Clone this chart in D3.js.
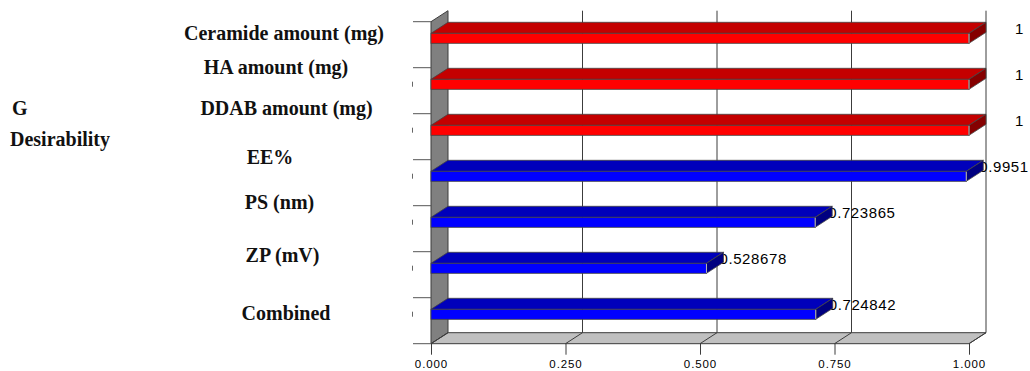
<!DOCTYPE html>
<html>
<head>
<meta charset="utf-8">
<script src="https://cdn.jsdelivr.net/npm/d3@7"></script>
<style>
  html, body { margin: 0; padding: 0; background: #ffffff; }
  svg { display: block; }
</style>
</head>
<body>
<svg id="chart" width="1030" height="371"></svg>
<script>
// Desirability per factor / response
const categories = ["Ceramide amount (mg)", "HA amount (mg)", "DDAB amount (mg)", "EE%", "PS (nm)", "ZP (mV)", "Combined"];
const desirability = [1, 1, 1, 0.9951, 0.723865, 0.528678, 0.724842];
const barGroup = ["factor", "factor", "factor", "response", "response", "response", "response"];
const xTicks = [0, 0.25, 0.5, 0.75, 1];

// Layout nudges for the row captions (dx, dy from band centre / caption column)
const captionShift = [[4, -4.7], [-4, -16.7], [6.5, -21.7], [-10, -18.7], [-0.5, -19.7], [2.5, -12.7], [6, -0.7]];

const palette = {
  factor:   { front: "#ff0000", top: "#c40000", end: "#850000" },
  response: { front: "#0000ff", top: "#0000bb", end: "#000080" }
};

const svg = d3.select("#chart");

// Plot geometry: front plane plus a receding depth offset
const depth = { dx: 17, dy: -11 };
const y = d3.scaleBand().domain(categories).range([21.7, 343.7]).padding(0);
const x = d3.scaleLinear().domain([0, 1]).range([431, 969]);
const xBar = d3.scaleLinear().domain([0, 1]).range([412, 969]);
const y0 = y.range()[0], y1 = y.range()[1];
const x0 = x(0), xEnd = x(1);

const lineCol = "#3c3c3c";

// Back-wall gridlines
svg.append("g").selectAll("line").data(xTicks.slice(1)).join("line")
  .attr("x1", d => x(d) + depth.dx).attr("x2", d => x(d) + depth.dx)
  .attr("y1", y0 + depth.dy).attr("y2", y1 + depth.dy)
  .attr("stroke", lineCol).attr("stroke-width", 1);

// Left wall
svg.append("path")
  .attr("d", `M${x0},${y0} L${x0 + depth.dx},${y0 + depth.dy} L${x0 + depth.dx},${y1 + depth.dy} L${x0},${y1} Z`)
  .attr("fill", "#808080").attr("stroke", lineCol).attr("stroke-width", 1);

// Floor
svg.append("path")
  .attr("d", `M${x0},${y1} L${x0 + depth.dx},${y1 + depth.dy} L${xEnd + depth.dx},${y1 + depth.dy} L${xEnd},${y1} Z`)
  .attr("fill", "#c0c0c0").attr("stroke", lineCol).attr("stroke-width", 1);

// Slanted tick lines across the floor
svg.append("g").selectAll("line").data(xTicks).join("line")
  .attr("x1", d => x(d)).attr("y1", y1)
  .attr("x2", d => x(d) + depth.dx).attr("y2", y1 + depth.dy)
  .attr("stroke", lineCol).attr("stroke-width", 1);

// Bottom axis
const xAxis = d3.axisBottom(x).tickValues(xTicks).tickFormat(d3.format(".3f")).tickSize(11).tickPadding(5);
const gx = svg.append("g").attr("transform", `translate(0,${y1})`).call(xAxis);
gx.select(".domain").remove();
gx.selectAll(".tick line").attr("stroke", lineCol);
gx.selectAll(".tick text")
  .attr("font-family", "'Liberation Sans', Arial, sans-serif")
  .attr("font-size", 11.5).attr("letter-spacing", "0.9px").attr("fill", "#000");

// Left category ticks at band boundaries
const bounds = categories.map(c => y(c)).concat([y1]);
svg.append("g").selectAll("line").data(bounds).join("line")
  .attr("x1", x0 - 18).attr("x2", x0)
  .attr("y1", d => d).attr("y2", d => d)
  .attr("stroke", "#555").attr("stroke-width", 1);

// Small clipped tick marks beside the rows
svg.append("g").selectAll("line").data(categories.slice(1)).join("line")
  .attr("x1", x0 - 18.5).attr("x2", x0 - 18.5)
  .attr("y1", d => y(d) + y.bandwidth() / 2 - 9)
  .attr("y2", d => y(d) + y.bandwidth() / 2 - 4)
  .attr("stroke", "#666").attr("stroke-width", 1);

// Bar geometry helpers
const faceTop = c => y(c) + 11.6;
const faceH = 10;

// Value labels (drawn first so the bar ends overlap them)
svg.append("g").selectAll("text").data(categories).join("text")
  .attr("x", (c, i) => xBar(desirability[i]) + depth.dx + (Number.isInteger(desirability[i]) ? 29 : -4))
  .attr("y", c => faceTop(c) + 0.3)
  .attr("font-family", "'Liberation Sans', Arial, sans-serif")
  .attr("font-size", 15).attr("letter-spacing", "0.6px").attr("fill", "#000")
  .text((c, i) => String(desirability[i]));

// 3D bars
const bars = svg.append("g").selectAll("g").data(categories).join("g");
bars.each(function (c, i) {
  const g = d3.select(this);
  const col = palette[barGroup[i]];
  const xl = x0, xr = xBar(desirability[i]);
  const t = faceTop(c), b = t + faceH;
  // top face
  g.append("path")
    .attr("d", `M${xl},${t} L${xl + depth.dx},${t + depth.dy} L${xr + depth.dx},${t + depth.dy} L${xr},${t} Z`)
    .attr("fill", col.top).attr("stroke", "#444").attr("stroke-width", 0.8);
  // end face
  g.append("path")
    .attr("d", `M${xr},${t} L${xr + depth.dx},${t + depth.dy} L${xr + depth.dx},${b + depth.dy} L${xr},${b} Z`)
    .attr("fill", col.end).attr("stroke", "#444").attr("stroke-width", 0.8);
  // front face
  g.append("rect")
    .attr("x", xl).attr("y", t).attr("width", xr - xl).attr("height", faceH)
    .attr("fill", col.front).attr("stroke", "#444").attr("stroke-width", 0.8);
  // light edge at the front-right corner
  g.append("line")
    .attr("x1", xr).attr("x2", xr).attr("y1", t + 0.5).attr("y2", b - 0.5)
    .attr("stroke", "#b8b8b8").attr("stroke-width", 1);
});

// Row captions
const serif = "'Liberation Serif', 'Times New Roman', serif";
svg.append("g").selectAll("text").data(categories).join("text")
  .attr("x", (c, i) => 280 + captionShift[i][0])
  .attr("y", (c, i) => y(c) + y.bandwidth() / 2 + captionShift[i][1])
  .attr("text-anchor", "middle")
  .attr("font-family", serif).attr("font-weight", "bold").attr("font-size", 20).attr("fill", "#111")
  .text(c => c);

// Panel letter and axis title
svg.append("text").attr("x", 12).attr("y", 115)
  .attr("font-family", serif).attr("font-weight", "bold").attr("font-size", 20).attr("fill", "#111")
  .text("G");
svg.append("text").attr("x", 10).attr("y", 145.5)
  .attr("font-family", serif).attr("font-weight", "bold").attr("font-size", 20).attr("fill", "#111")
  .text("Desirability");
</script>
</body>
</html>
